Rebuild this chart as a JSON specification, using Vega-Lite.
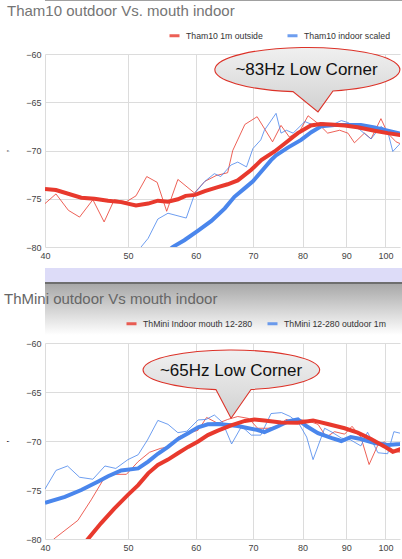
{
  "$schema": "https://vega.github.io/schema/vega-lite/v6.json",
  "padding": 0,
  "background": "white",
  "spacing": 0,
  "config": {
    "view": {"stroke": null},
    "font": "Liberation Sans",
    "axis": {"labelFont": "Liberation Sans", "labelFontSize": 9, "labelColor": "#444", "gridColor": "#dcdcdc", "gridWidth": 1, "domain": false, "ticks": false},
    "legend": {"labelFont": "Liberation Sans", "labelFontSize": 8.7, "labelColor": "#333", "padding": 0, "symbolType": "stroke", "symbolStrokeWidth": 3, "symbolSize": 100, "labelOffset": 5, "title": null}
  },
  "resolve": {"scale": {"color": "independent", "x": "independent", "y": "independent"}, "legend": {"color": "independent"}},
  "vconcat": [
    {"width": 402, "height": 1, "data": {"values": [{}]}, "mark": {"type": "rect", "fill": "#a0a0a0"}, "encoding": {}},
    {"width": 402, "height": 3, "data": {"values": [{}]}, "mark": {"type": "rect", "fill": "#ffffff"}, "encoding": {}},
    {
      "width": 355, "height": 193,
      "title": {"text": "Tham10 outdoor Vs. mouth indoor", "anchor": "start", "font": "Liberation Sans", "fontSize": 15, "fontWeight": "normal", "color": "#757575", "dx": 7, "offset": 10},
      "data": {"values": [
        {"s": "Tham10 1m outside", "k": "raw", "f": 40, "db": -75.5},
        {"s": "Tham10 1m outside", "k": "raw", "f": 41.2, "db": -74.5},
        {"s": "Tham10 1m outside", "k": "raw", "f": 42.6, "db": -76.2},
        {"s": "Tham10 1m outside", "k": "raw", "f": 43.9, "db": -76.9},
        {"s": "Tham10 1m outside", "k": "raw", "f": 45.5, "db": -75.1},
        {"s": "Tham10 1m outside", "k": "raw", "f": 46.9, "db": -77.4},
        {"s": "Tham10 1m outside", "k": "raw", "f": 48.2, "db": -75.1},
        {"s": "Tham10 1m outside", "k": "raw", "f": 49.8, "db": -75.3},
        {"s": "Tham10 1m outside", "k": "raw", "f": 51.1, "db": -74.7},
        {"s": "Tham10 1m outside", "k": "raw", "f": 52.6, "db": -72.7},
        {"s": "Tham10 1m outside", "k": "raw", "f": 54.1, "db": -73.3},
        {"s": "Tham10 1m outside", "k": "raw", "f": 55.5, "db": -76.3},
        {"s": "Tham10 1m outside", "k": "raw", "f": 57.2, "db": -73.0},
        {"s": "Tham10 1m outside", "k": "raw", "f": 59.8, "db": -74.4},
        {"s": "Tham10 1m outside", "k": "raw", "f": 61.5, "db": -73.2},
        {"s": "Tham10 1m outside", "k": "raw", "f": 63.4, "db": -72.6},
        {"s": "Tham10 1m outside", "k": "raw", "f": 65.4, "db": -72.3},
        {"s": "Tham10 1m outside", "k": "raw", "f": 66.3, "db": -70.0},
        {"s": "Tham10 1m outside", "k": "raw", "f": 68.5, "db": -67.3},
        {"s": "Tham10 1m outside", "k": "raw", "f": 70.8, "db": -66.5},
        {"s": "Tham10 1m outside", "k": "raw", "f": 73.8, "db": -69.1},
        {"s": "Tham10 1m outside", "k": "raw", "f": 75.5, "db": -67.4},
        {"s": "Tham10 1m outside", "k": "raw", "f": 77.2, "db": -68.6},
        {"s": "Tham10 1m outside", "k": "raw", "f": 79.4, "db": -68.0},
        {"s": "Tham10 1m outside", "k": "raw", "f": 81.2, "db": -66.4},
        {"s": "Tham10 1m outside", "k": "raw", "f": 83.4, "db": -67.2},
        {"s": "Tham10 1m outside", "k": "raw", "f": 85.6, "db": -68.2},
        {"s": "Tham10 1m outside", "k": "raw", "f": 88.4, "db": -67.9},
        {"s": "Tham10 1m outside", "k": "raw", "f": 90.4, "db": -68.2},
        {"s": "Tham10 1m outside", "k": "raw", "f": 92.0, "db": -69.2},
        {"s": "Tham10 1m outside", "k": "raw", "f": 94.5, "db": -68.2},
        {"s": "Tham10 1m outside", "k": "raw", "f": 96.2, "db": -68.8},
        {"s": "Tham10 1m outside", "k": "raw", "f": 98.8, "db": -66.7},
        {"s": "Tham10 1m outside", "k": "raw", "f": 100.6, "db": -68.2},
        {"s": "Tham10 1m outside", "k": "raw", "f": 102.9, "db": -69.1},
        {"s": "Tham10 1m outside", "k": "raw", "f": 106, "db": -69.6},
        {"s": "Tham10 indoor scaled", "k": "raw", "f": 50.5, "db": -81.5},
        {"s": "Tham10 indoor scaled", "k": "raw", "f": 51.8, "db": -80.0},
        {"s": "Tham10 indoor scaled", "k": "raw", "f": 52.8, "db": -79.1},
        {"s": "Tham10 indoor scaled", "k": "raw", "f": 54.2, "db": -77.1},
        {"s": "Tham10 indoor scaled", "k": "raw", "f": 55.7, "db": -76.5},
        {"s": "Tham10 indoor scaled", "k": "raw", "f": 58.5, "db": -77.0},
        {"s": "Tham10 indoor scaled", "k": "raw", "f": 59.9, "db": -74.4},
        {"s": "Tham10 indoor scaled", "k": "raw", "f": 61.5, "db": -73.2},
        {"s": "Tham10 indoor scaled", "k": "raw", "f": 63.1, "db": -72.4},
        {"s": "Tham10 indoor scaled", "k": "raw", "f": 64.2, "db": -72.7},
        {"s": "Tham10 indoor scaled", "k": "raw", "f": 66.0, "db": -71.5},
        {"s": "Tham10 indoor scaled", "k": "raw", "f": 67.2, "db": -71.2},
        {"s": "Tham10 indoor scaled", "k": "raw", "f": 68.8, "db": -71.7},
        {"s": "Tham10 indoor scaled", "k": "raw", "f": 70.0, "db": -69.8},
        {"s": "Tham10 indoor scaled", "k": "raw", "f": 71.5, "db": -68.9},
        {"s": "Tham10 indoor scaled", "k": "raw", "f": 72.2, "db": -67.9},
        {"s": "Tham10 indoor scaled", "k": "raw", "f": 74.5, "db": -66.15},
        {"s": "Tham10 indoor scaled", "k": "raw", "f": 75.5, "db": -68.2},
        {"s": "Tham10 indoor scaled", "k": "raw", "f": 76.6, "db": -67.9},
        {"s": "Tham10 indoor scaled", "k": "raw", "f": 78.0, "db": -68.2},
        {"s": "Tham10 indoor scaled", "k": "raw", "f": 80.5, "db": -67.0},
        {"s": "Tham10 indoor scaled", "k": "raw", "f": 82.6, "db": -67.4},
        {"s": "Tham10 indoor scaled", "k": "raw", "f": 84.5, "db": -67.1},
        {"s": "Tham10 indoor scaled", "k": "raw", "f": 86.4, "db": -67.4},
        {"s": "Tham10 indoor scaled", "k": "raw", "f": 88.8, "db": -66.9},
        {"s": "Tham10 indoor scaled", "k": "raw", "f": 90.4, "db": -67.1},
        {"s": "Tham10 indoor scaled", "k": "raw", "f": 93.2, "db": -67.8},
        {"s": "Tham10 indoor scaled", "k": "raw", "f": 96.2, "db": -68.8},
        {"s": "Tham10 indoor scaled", "k": "raw", "f": 98.8, "db": -67.5},
        {"s": "Tham10 indoor scaled", "k": "raw", "f": 100.6, "db": -68.0},
        {"s": "Tham10 indoor scaled", "k": "raw", "f": 102.0, "db": -70.1},
        {"s": "Tham10 indoor scaled", "k": "raw", "f": 104, "db": -69.3},
        {"s": "Tham10 indoor scaled", "k": "raw", "f": 106, "db": -69.0},
        {"s": "Tham10 indoor scaled", "k": "smooth", "f": 55, "db": -80.9},
        {"s": "Tham10 indoor scaled", "k": "smooth", "f": 56.4, "db": -80.0},
        {"s": "Tham10 indoor scaled", "k": "smooth", "f": 58.2, "db": -79.3},
        {"s": "Tham10 indoor scaled", "k": "smooth", "f": 60.4, "db": -78.3},
        {"s": "Tham10 indoor scaled", "k": "smooth", "f": 62.6, "db": -77.3},
        {"s": "Tham10 indoor scaled", "k": "smooth", "f": 64.9, "db": -76.0},
        {"s": "Tham10 indoor scaled", "k": "smooth", "f": 66.6, "db": -74.8},
        {"s": "Tham10 indoor scaled", "k": "smooth", "f": 68.5, "db": -73.9},
        {"s": "Tham10 indoor scaled", "k": "smooth", "f": 70.0, "db": -73.2},
        {"s": "Tham10 indoor scaled", "k": "smooth", "f": 71.9, "db": -72.0},
        {"s": "Tham10 indoor scaled", "k": "smooth", "f": 73.5, "db": -71.0},
        {"s": "Tham10 indoor scaled", "k": "smooth", "f": 74.5, "db": -70.5},
        {"s": "Tham10 indoor scaled", "k": "smooth", "f": 76.9, "db": -69.7},
        {"s": "Tham10 indoor scaled", "k": "smooth", "f": 79.7, "db": -68.9},
        {"s": "Tham10 indoor scaled", "k": "smooth", "f": 81.9, "db": -68.1},
        {"s": "Tham10 indoor scaled", "k": "smooth", "f": 84.1, "db": -67.5},
        {"s": "Tham10 indoor scaled", "k": "smooth", "f": 87.2, "db": -67.35},
        {"s": "Tham10 indoor scaled", "k": "smooth", "f": 93.6, "db": -67.35},
        {"s": "Tham10 indoor scaled", "k": "smooth", "f": 97.1, "db": -67.6},
        {"s": "Tham10 indoor scaled", "k": "smooth", "f": 100.6, "db": -67.95},
        {"s": "Tham10 indoor scaled", "k": "smooth", "f": 104, "db": -68.25},
        {"s": "Tham10 indoor scaled", "k": "smooth", "f": 106, "db": -68.4},
        {"s": "Tham10 1m outside", "k": "smooth", "f": 40, "db": -74.0},
        {"s": "Tham10 1m outside", "k": "smooth", "f": 41.2, "db": -74.1},
        {"s": "Tham10 1m outside", "k": "smooth", "f": 44.1, "db": -74.9},
        {"s": "Tham10 1m outside", "k": "smooth", "f": 45.7, "db": -75.0},
        {"s": "Tham10 1m outside", "k": "smooth", "f": 47.4, "db": -75.2},
        {"s": "Tham10 1m outside", "k": "smooth", "f": 49.1, "db": -75.35},
        {"s": "Tham10 1m outside", "k": "smooth", "f": 51.1, "db": -75.7},
        {"s": "Tham10 1m outside", "k": "smooth", "f": 52.8, "db": -75.5},
        {"s": "Tham10 1m outside", "k": "smooth", "f": 54.2, "db": -75.2},
        {"s": "Tham10 1m outside", "k": "smooth", "f": 55.7, "db": -75.3},
        {"s": "Tham10 1m outside", "k": "smooth", "f": 57.2, "db": -75.05},
        {"s": "Tham10 1m outside", "k": "smooth", "f": 58.4, "db": -74.7},
        {"s": "Tham10 1m outside", "k": "smooth", "f": 59.9, "db": -74.6},
        {"s": "Tham10 1m outside", "k": "smooth", "f": 61.5, "db": -74.2},
        {"s": "Tham10 1m outside", "k": "smooth", "f": 63.7, "db": -73.8},
        {"s": "Tham10 1m outside", "k": "smooth", "f": 65.4, "db": -73.5},
        {"s": "Tham10 1m outside", "k": "smooth", "f": 67.2, "db": -73.1},
        {"s": "Tham10 1m outside", "k": "smooth", "f": 69.7, "db": -72.0},
        {"s": "Tham10 1m outside", "k": "smooth", "f": 71.6, "db": -71.0},
        {"s": "Tham10 1m outside", "k": "smooth", "f": 74.2, "db": -70.1},
        {"s": "Tham10 1m outside", "k": "smooth", "f": 76.2, "db": -69.3},
        {"s": "Tham10 1m outside", "k": "smooth", "f": 79.0, "db": -68.2},
        {"s": "Tham10 1m outside", "k": "smooth", "f": 81.8, "db": -67.4},
        {"s": "Tham10 1m outside", "k": "smooth", "f": 84.0, "db": -67.25},
        {"s": "Tham10 1m outside", "k": "smooth", "f": 86.3, "db": -67.3},
        {"s": "Tham10 1m outside", "k": "smooth", "f": 89.6, "db": -67.4},
        {"s": "Tham10 1m outside", "k": "smooth", "f": 92.8, "db": -67.6},
        {"s": "Tham10 1m outside", "k": "smooth", "f": 97.1, "db": -67.95},
        {"s": "Tham10 1m outside", "k": "smooth", "f": 100.6, "db": -68.2},
        {"s": "Tham10 1m outside", "k": "smooth", "f": 104, "db": -68.4},
        {"s": "Tham10 1m outside", "k": "smooth", "f": 106, "db": -68.5}
      ]},
      "encoding": {
        "x": {"field": "f", "type": "quantitative", "scale": {"type": "log", "domain": [40, 104], "nice": false}, "axis": {"values": [40, 50, 60, 70, 80, 90, 100], "format": "d", "title": null, "labelPadding": 4, "grid": true, "labelFlush": false, "labelOverlap": false, "labelBound": false}},
        "y": {"field": "db", "type": "quantitative", "scale": {"domain": [-80, -60], "nice": false, "zero": false}, "axis": {"values": [-80, -75, -70, -65, -60], "format": "d", "title": ",", "titleFontSize": 9, "titleColor": "#222", "titleFontWeight": "normal", "minExtent": 30, "maxExtent": 30, "titlePadding": 6, "labelPadding": 4, "grid": true}}
      },
      "layer": [
        {"transform": [{"filter": "datum.k == 'raw'"}], "mark": {"type": "line", "strokeWidth": 1, "opacity": 0.8, "clip": true},
         "encoding": {"color": {"field": "s", "type": "nominal", "scale": {"domain": ["Tham10 1m outside", "Tham10 indoor scaled"], "range": ["#e8392d", "#4a86ec"]}, "legend": {"orient": "none", "direction": "horizontal", "legendX": 123, "legendY": -25, "columnPadding": 18}}}},
        {"transform": [{"filter": "datum.k == 'smooth'"}], "mark": {"type": "line", "strokeWidth": 4, "clip": true},
         "encoding": {"color": {"field": "s", "type": "nominal"}}},
        {"data": {"values": [{"f": 83.4, "db": -66.0, "label": "~83Hz Low Corner"}]},
         "mark": {"type": "point", "shape": "M15,-20.9 A92.5,22.2 0 1,0 -25,-20.3 L0,0 Z", "size": 4, "filled": true, "fill": {"gradient": "linear", "x1": 0, "y1": 0, "x2": 0, "y2": 1, "stops": [{"offset": 0, "color": "#f0f0f0"}, {"offset": 0.6, "color": "#dedede"}, {"offset": 1, "color": "#d0d0d0"}]}, "stroke": "#dc3228", "strokeWidth": 1.1, "opacity": 1, "fillOpacity": 1, "strokeOpacity": 1}},
        {"data": {"values": [{"f": 83.4, "db": -66.0, "label": "~83Hz Low Corner"}]},
         "mark": {"type": "text", "font": "Liberation Sans", "fontSize": 17, "color": "#111", "align": "center", "baseline": "alphabetic", "dx": -11.5, "dy": -36.7},
         "encoding": {"text": {"field": "label"}}}
      ]
    },
    {"width": 402, "height": 8, "data": {"values": [{}]}, "mark": {"type": "rect", "fill": "#ffffff"}, "encoding": {}},
    {"width": 402, "height": 14, "data": {"values": [{}]}, "mark": {"type": "rect", "fill": "#dddcf8"}, "encoding": {}},
    {"width": 402, "height": 2, "data": {"values": [{}]}, "mark": {"type": "rect", "fill": "#6e6e6e"}, "encoding": {}},
    {
      "spacing": -43,
      "resolve": {"scale": {"color": "independent", "x": "independent", "y": "independent"}, "legend": {"color": "independent"}},
      "vconcat": [
        {"width": 402, "height": 51, "data": {"values": [{}]}, "mark": {"type": "rect", "fill": {"gradient": "linear", "x1": 0, "y1": 0, "x2": 0, "y2": 1, "stops": [{"offset": 0, "color": "#a8a8a8"}, {"offset": 1, "color": "#ffffff"}]}}, "encoding": {}},
        {
          "width": 355, "height": 196,
          "title": {"text": "ThMini outdoor Vs mouth indoor", "anchor": "start", "font": "Liberation Sans", "fontSize": 15, "fontWeight": "normal", "color": "#666666", "dx": 4, "offset": 10},
          "data": {"values": [
            {"s": "ThMini Indoor mouth 12-280", "k": "raw", "f": 40, "db": -80.8},
            {"s": "ThMini Indoor mouth 12-280", "k": "raw", "f": 41.1, "db": -79.9},
            {"s": "ThMini Indoor mouth 12-280", "k": "raw", "f": 43.7, "db": -78.1},
            {"s": "ThMini Indoor mouth 12-280", "k": "raw", "f": 45.3, "db": -76.0},
            {"s": "ThMini Indoor mouth 12-280", "k": "raw", "f": 46.9, "db": -73.8},
            {"s": "ThMini Indoor mouth 12-280", "k": "raw", "f": 48.2, "db": -73.4},
            {"s": "ThMini Indoor mouth 12-280", "k": "raw", "f": 49.8, "db": -73.4},
            {"s": "ThMini Indoor mouth 12-280", "k": "raw", "f": 51.4, "db": -72.1},
            {"s": "ThMini Indoor mouth 12-280", "k": "raw", "f": 53.0, "db": -71.15},
            {"s": "ThMini Indoor mouth 12-280", "k": "raw", "f": 54.6, "db": -70.75},
            {"s": "ThMini Indoor mouth 12-280", "k": "raw", "f": 55.9, "db": -70.6},
            {"s": "ThMini Indoor mouth 12-280", "k": "raw", "f": 57.2, "db": -69.6},
            {"s": "ThMini Indoor mouth 12-280", "k": "raw", "f": 58.8, "db": -69.2},
            {"s": "ThMini Indoor mouth 12-280", "k": "raw", "f": 60.4, "db": -68.9},
            {"s": "ThMini Indoor mouth 12-280", "k": "raw", "f": 61.8, "db": -67.6},
            {"s": "ThMini Indoor mouth 12-280", "k": "raw", "f": 63.7, "db": -68.2},
            {"s": "ThMini Indoor mouth 12-280", "k": "raw", "f": 65.4, "db": -67.8},
            {"s": "ThMini Indoor mouth 12-280", "k": "raw", "f": 67.2, "db": -67.5},
            {"s": "ThMini Indoor mouth 12-280", "k": "raw", "f": 69.2, "db": -67.7},
            {"s": "ThMini Indoor mouth 12-280", "k": "raw", "f": 70.9, "db": -68.7},
            {"s": "ThMini Indoor mouth 12-280", "k": "raw", "f": 72.9, "db": -68.7},
            {"s": "ThMini Indoor mouth 12-280", "k": "raw", "f": 75.1, "db": -68.5},
            {"s": "ThMini Indoor mouth 12-280", "k": "raw", "f": 76.5, "db": -67.8},
            {"s": "ThMini Indoor mouth 12-280", "k": "raw", "f": 78.0, "db": -68.0},
            {"s": "ThMini Indoor mouth 12-280", "k": "raw", "f": 79.0, "db": -67.8},
            {"s": "ThMini Indoor mouth 12-280", "k": "raw", "f": 80.9, "db": -67.9},
            {"s": "ThMini Indoor mouth 12-280", "k": "raw", "f": 83.4, "db": -68.3},
            {"s": "ThMini Indoor mouth 12-280", "k": "raw", "f": 85.3, "db": -69.6},
            {"s": "ThMini Indoor mouth 12-280", "k": "raw", "f": 87.2, "db": -69.05},
            {"s": "ThMini Indoor mouth 12-280", "k": "raw", "f": 89.6, "db": -69.3},
            {"s": "ThMini Indoor mouth 12-280", "k": "raw", "f": 91.4, "db": -68.5},
            {"s": "ThMini Indoor mouth 12-280", "k": "raw", "f": 93.6, "db": -69.6},
            {"s": "ThMini Indoor mouth 12-280", "k": "raw", "f": 95.7, "db": -72.4},
            {"s": "ThMini Indoor mouth 12-280", "k": "raw", "f": 98.0, "db": -70.4},
            {"s": "ThMini Indoor mouth 12-280", "k": "raw", "f": 99.7, "db": -70.1},
            {"s": "ThMini Indoor mouth 12-280", "k": "raw", "f": 101.5, "db": -70.75},
            {"s": "ThMini Indoor mouth 12-280", "k": "raw", "f": 103, "db": -71.1},
            {"s": "ThMini Indoor mouth 12-280", "k": "raw", "f": 106, "db": -71.2},
            {"s": "ThMini 12-280 outdoor 1m", "k": "raw", "f": 40, "db": -74.9},
            {"s": "ThMini 12-280 outdoor 1m", "k": "raw", "f": 41.2, "db": -73.0},
            {"s": "ThMini 12-280 outdoor 1m", "k": "raw", "f": 42.5, "db": -72.55},
            {"s": "ThMini 12-280 outdoor 1m", "k": "raw", "f": 43.9, "db": -73.7},
            {"s": "ThMini 12-280 outdoor 1m", "k": "raw", "f": 45.5, "db": -73.9},
            {"s": "ThMini 12-280 outdoor 1m", "k": "raw", "f": 47.0, "db": -72.55},
            {"s": "ThMini 12-280 outdoor 1m", "k": "raw", "f": 48.4, "db": -72.8},
            {"s": "ThMini 12-280 outdoor 1m", "k": "raw", "f": 50.0, "db": -71.9},
            {"s": "ThMini 12-280 outdoor 1m", "k": "raw", "f": 51.4, "db": -71.4},
            {"s": "ThMini 12-280 outdoor 1m", "k": "raw", "f": 52.7, "db": -69.9},
            {"s": "ThMini 12-280 outdoor 1m", "k": "raw", "f": 54.2, "db": -67.9},
            {"s": "ThMini 12-280 outdoor 1m", "k": "raw", "f": 55.7, "db": -68.3},
            {"s": "ThMini 12-280 outdoor 1m", "k": "raw", "f": 57.2, "db": -69.15},
            {"s": "ThMini 12-280 outdoor 1m", "k": "raw", "f": 58.6, "db": -69.0},
            {"s": "ThMini 12-280 outdoor 1m", "k": "raw", "f": 60.4, "db": -67.85},
            {"s": "ThMini 12-280 outdoor 1m", "k": "raw", "f": 61.7, "db": -67.8},
            {"s": "ThMini 12-280 outdoor 1m", "k": "raw", "f": 63.1, "db": -67.35},
            {"s": "ThMini 12-280 outdoor 1m", "k": "raw", "f": 64.5, "db": -68.1},
            {"s": "ThMini 12-280 outdoor 1m", "k": "raw", "f": 66.1, "db": -70.3},
            {"s": "ThMini 12-280 outdoor 1m", "k": "raw", "f": 67.9, "db": -68.5},
            {"s": "ThMini 12-280 outdoor 1m", "k": "raw", "f": 69.7, "db": -69.4},
            {"s": "ThMini 12-280 outdoor 1m", "k": "raw", "f": 71.5, "db": -69.4},
            {"s": "ThMini 12-280 outdoor 1m", "k": "raw", "f": 73.5, "db": -67.2},
            {"s": "ThMini 12-280 outdoor 1m", "k": "raw", "f": 75.6, "db": -67.1},
            {"s": "ThMini 12-280 outdoor 1m", "k": "raw", "f": 77.4, "db": -67.5},
            {"s": "ThMini 12-280 outdoor 1m", "k": "raw", "f": 79.2, "db": -68.2},
            {"s": "ThMini 12-280 outdoor 1m", "k": "raw", "f": 80.9, "db": -69.6},
            {"s": "ThMini 12-280 outdoor 1m", "k": "raw", "f": 82.3, "db": -71.9},
            {"s": "ThMini 12-280 outdoor 1m", "k": "raw", "f": 84.9, "db": -68.7},
            {"s": "ThMini 12-280 outdoor 1m", "k": "raw", "f": 86.6, "db": -69.1},
            {"s": "ThMini 12-280 outdoor 1m", "k": "raw", "f": 88.8, "db": -69.7},
            {"s": "ThMini 12-280 outdoor 1m", "k": "raw", "f": 91.1, "db": -69.9},
            {"s": "ThMini 12-280 outdoor 1m", "k": "raw", "f": 93.6, "db": -70.5},
            {"s": "ThMini 12-280 outdoor 1m", "k": "raw", "f": 95.3, "db": -69.1},
            {"s": "ThMini 12-280 outdoor 1m", "k": "raw", "f": 98.0, "db": -71.2},
            {"s": "ThMini 12-280 outdoor 1m", "k": "raw", "f": 100.6, "db": -71.3},
            {"s": "ThMini 12-280 outdoor 1m", "k": "raw", "f": 102.3, "db": -69.05},
            {"s": "ThMini 12-280 outdoor 1m", "k": "raw", "f": 104, "db": -69.2},
            {"s": "ThMini 12-280 outdoor 1m", "k": "raw", "f": 106, "db": -69.5},
            {"s": "ThMini 12-280 outdoor 1m", "k": "smooth", "f": 40, "db": -76.3},
            {"s": "ThMini 12-280 outdoor 1m", "k": "smooth", "f": 42.2, "db": -75.7},
            {"s": "ThMini 12-280 outdoor 1m", "k": "smooth", "f": 44.1, "db": -75.0},
            {"s": "ThMini 12-280 outdoor 1m", "k": "smooth", "f": 46.1, "db": -74.15},
            {"s": "ThMini 12-280 outdoor 1m", "k": "smooth", "f": 47.4, "db": -73.6},
            {"s": "ThMini 12-280 outdoor 1m", "k": "smooth", "f": 49.1, "db": -73.0},
            {"s": "ThMini 12-280 outdoor 1m", "k": "smooth", "f": 51.4, "db": -72.8},
            {"s": "ThMini 12-280 outdoor 1m", "k": "smooth", "f": 52.8, "db": -72.1},
            {"s": "ThMini 12-280 outdoor 1m", "k": "smooth", "f": 54.2, "db": -71.3},
            {"s": "ThMini 12-280 outdoor 1m", "k": "smooth", "f": 55.7, "db": -70.6},
            {"s": "ThMini 12-280 outdoor 1m", "k": "smooth", "f": 57.2, "db": -69.8},
            {"s": "ThMini 12-280 outdoor 1m", "k": "smooth", "f": 58.8, "db": -69.2},
            {"s": "ThMini 12-280 outdoor 1m", "k": "smooth", "f": 60.4, "db": -68.6},
            {"s": "ThMini 12-280 outdoor 1m", "k": "smooth", "f": 62.0, "db": -68.3},
            {"s": "ThMini 12-280 outdoor 1m", "k": "smooth", "f": 63.7, "db": -68.27},
            {"s": "ThMini 12-280 outdoor 1m", "k": "smooth", "f": 66.0, "db": -68.4},
            {"s": "ThMini 12-280 outdoor 1m", "k": "smooth", "f": 67.2, "db": -68.47},
            {"s": "ThMini 12-280 outdoor 1m", "k": "smooth", "f": 70.9, "db": -68.88},
            {"s": "ThMini 12-280 outdoor 1m", "k": "smooth", "f": 72.2, "db": -69.1},
            {"s": "ThMini 12-280 outdoor 1m", "k": "smooth", "f": 74.9, "db": -68.5},
            {"s": "ThMini 12-280 outdoor 1m", "k": "smooth", "f": 76.9, "db": -68.0},
            {"s": "ThMini 12-280 outdoor 1m", "k": "smooth", "f": 79.0, "db": -67.8},
            {"s": "ThMini 12-280 outdoor 1m", "k": "smooth", "f": 80.9, "db": -68.5},
            {"s": "ThMini 12-280 outdoor 1m", "k": "smooth", "f": 83.4, "db": -69.2},
            {"s": "ThMini 12-280 outdoor 1m", "k": "smooth", "f": 86.6, "db": -69.7},
            {"s": "ThMini 12-280 outdoor 1m", "k": "smooth", "f": 88.8, "db": -70.0},
            {"s": "ThMini 12-280 outdoor 1m", "k": "smooth", "f": 91.1, "db": -69.6},
            {"s": "ThMini 12-280 outdoor 1m", "k": "smooth", "f": 93.6, "db": -69.8},
            {"s": "ThMini 12-280 outdoor 1m", "k": "smooth", "f": 97.1, "db": -70.2},
            {"s": "ThMini 12-280 outdoor 1m", "k": "smooth", "f": 100.6, "db": -70.4},
            {"s": "ThMini 12-280 outdoor 1m", "k": "smooth", "f": 104, "db": -70.3},
            {"s": "ThMini 12-280 outdoor 1m", "k": "smooth", "f": 106, "db": -70.2},
            {"s": "ThMini Indoor mouth 12-280", "k": "smooth", "f": 43.5, "db": -81.5},
            {"s": "ThMini Indoor mouth 12-280", "k": "smooth", "f": 44.9, "db": -80.0},
            {"s": "ThMini Indoor mouth 12-280", "k": "smooth", "f": 46.5, "db": -78.4},
            {"s": "ThMini Indoor mouth 12-280", "k": "smooth", "f": 48.2, "db": -76.9},
            {"s": "ThMini Indoor mouth 12-280", "k": "smooth", "f": 50.0, "db": -75.5},
            {"s": "ThMini Indoor mouth 12-280", "k": "smooth", "f": 51.4, "db": -74.5},
            {"s": "ThMini Indoor mouth 12-280", "k": "smooth", "f": 52.8, "db": -73.3},
            {"s": "ThMini Indoor mouth 12-280", "k": "smooth", "f": 54.2, "db": -72.45},
            {"s": "ThMini Indoor mouth 12-280", "k": "smooth", "f": 55.7, "db": -71.9},
            {"s": "ThMini Indoor mouth 12-280", "k": "smooth", "f": 57.2, "db": -71.25},
            {"s": "ThMini Indoor mouth 12-280", "k": "smooth", "f": 58.8, "db": -70.6},
            {"s": "ThMini Indoor mouth 12-280", "k": "smooth", "f": 60.4, "db": -70.05},
            {"s": "ThMini Indoor mouth 12-280", "k": "smooth", "f": 62.0, "db": -69.4},
            {"s": "ThMini Indoor mouth 12-280", "k": "smooth", "f": 63.7, "db": -68.95},
            {"s": "ThMini Indoor mouth 12-280", "k": "smooth", "f": 66.0, "db": -68.4},
            {"s": "ThMini Indoor mouth 12-280", "k": "smooth", "f": 68.5, "db": -67.95},
            {"s": "ThMini Indoor mouth 12-280", "k": "smooth", "f": 70.3, "db": -67.8},
            {"s": "ThMini Indoor mouth 12-280", "k": "smooth", "f": 72.2, "db": -67.9},
            {"s": "ThMini Indoor mouth 12-280", "k": "smooth", "f": 75.5, "db": -68.1},
            {"s": "ThMini Indoor mouth 12-280", "k": "smooth", "f": 79.0, "db": -68.13},
            {"s": "ThMini Indoor mouth 12-280", "k": "smooth", "f": 82.3, "db": -67.9},
            {"s": "ThMini Indoor mouth 12-280", "k": "smooth", "f": 85.6, "db": -68.27},
            {"s": "ThMini Indoor mouth 12-280", "k": "smooth", "f": 89.6, "db": -68.7},
            {"s": "ThMini Indoor mouth 12-280", "k": "smooth", "f": 92.8, "db": -69.15},
            {"s": "ThMini Indoor mouth 12-280", "k": "smooth", "f": 96.2, "db": -69.8},
            {"s": "ThMini Indoor mouth 12-280", "k": "smooth", "f": 99.7, "db": -70.55},
            {"s": "ThMini Indoor mouth 12-280", "k": "smooth", "f": 102.0, "db": -71.1},
            {"s": "ThMini Indoor mouth 12-280", "k": "smooth", "f": 104, "db": -70.85},
            {"s": "ThMini Indoor mouth 12-280", "k": "smooth", "f": 106, "db": -70.8}
          ]},
          "encoding": {
            "x": {"field": "f", "type": "quantitative", "scale": {"type": "log", "domain": [40, 104], "nice": false}, "axis": {"values": [40, 50, 60, 70, 80, 90, 100], "format": "d", "title": null, "labelPadding": 4, "grid": true, "labelFlush": false, "labelOverlap": false, "labelBound": false}},
            "y": {"field": "db", "type": "quantitative", "scale": {"domain": [-80, -60], "nice": false, "zero": false}, "axis": {"values": [-80, -75, -70, -65, -60], "format": "d", "title": ",", "titleFontSize": 9, "titleColor": "#222", "titleFontWeight": "normal", "minExtent": 30, "maxExtent": 30, "titlePadding": 6, "labelPadding": 4, "grid": true}}
          },
          "layer": [
            {"transform": [{"filter": "datum.k == 'raw'"}], "mark": {"type": "line", "strokeWidth": 1, "opacity": 0.8, "clip": true},
             "encoding": {"color": {"field": "s", "type": "nominal", "scale": {"domain": ["ThMini Indoor mouth 12-280", "ThMini 12-280 outdoor 1m"], "range": ["#e8392d", "#4a86ec"]}, "legend": {"orient": "none", "direction": "horizontal", "legendX": 80, "legendY": -26, "columnPadding": 8}}}},
            {"transform": [{"filter": "datum.k == 'smooth'"}], "mark": {"type": "line", "strokeWidth": 4, "clip": true},
             "encoding": {"color": {"field": "s", "type": "nominal"}}},
            {"data": {"values": [{"f": 66.0, "db": -67.68, "label": "~65Hz Low Corner"}]},
             "mark": {"type": "point", "shape": "M20,-28.8 A88.3,20 0 1,0 -15,-28.6 L0,0 Z", "size": 4, "filled": true, "fill": {"gradient": "linear", "x1": 0, "y1": 0, "x2": 0, "y2": 1, "stops": [{"offset": 0, "color": "#f0f0f0"}, {"offset": 0.6, "color": "#dedede"}, {"offset": 1, "color": "#d0d0d0"}]}, "stroke": "#dc3228", "strokeWidth": 1.1, "opacity": 1, "fillOpacity": 1, "strokeOpacity": 1}},
            {"data": {"values": [{"f": 66.0, "db": -67.68, "label": "~65Hz Low Corner"}]},
             "mark": {"type": "text", "font": "Liberation Sans", "fontSize": 17, "color": "#111", "align": "center", "baseline": "alphabetic", "dx": 0, "dy": -42.3},
             "encoding": {"text": {"field": "label"}}}
          ]
        }
      ]
    }
  ]
}
